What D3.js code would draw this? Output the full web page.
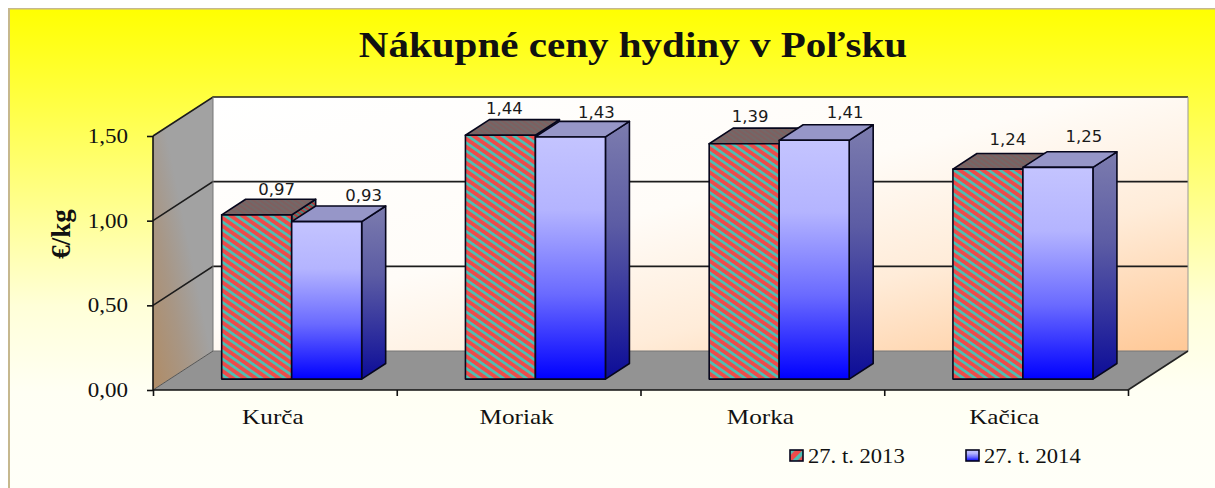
<!DOCTYPE html>
<html>
<head>
<meta charset="utf-8">
<script src="https://cdnjs.cloudflare.com/ajax/libs/d3/7.8.5/d3.min.js"></script>
<style>
html, body { margin: 0; padding: 0; background: #fff; overflow: hidden; }
text { fill: #111; font-family: "Liberation Serif", serif; }
.axis path, .axis line { stroke: #111; stroke-width: 1.6; }
.axis text { font-size: 20px; fill: #111; font-family: "Liberation Serif", serif; }
</style>
</head>
<body>
<svg id="chart" width="1215" height="488"></svg>
<script>
const categories = ['Kurča', 'Moriak', 'Morka', 'Kačica']
const series = ['27. t. 2013', '27. t. 2014']
const values2013 = [0.97, 1.44, 1.39, 1.24]
const values2014 = [0.93, 1.43, 1.41, 1.25]
const yTicks = [0, 0.5, 1, 1.5]

const width = 1215
const height = 488

const x0 = 153, x1 = 1128
const y0 = 390, y1 = 136
const depthX = 60, depthY = -39
const barStart = 0.28, barEnd = 0.68
const barW = 70

// hand placed, the labels in the picture sit off their bars
const labelOffsets2013 = [[20, -20], [4, -21], [6, -22], [20, -24]]
const labelOffsets2014 = [[37, -21], [26, -19], [31, -22], [26, -25]]

const svg = d3.select('#chart')
const defs = svg.append('defs')

function linear(id, coords, stops) {
    const g = defs.append('linearGradient').attr('id', id)
    .attr('x1', coords[0]).attr('y1', coords[1]).attr('x2', coords[2]).attr('y2', coords[3])
    stops.forEach(s => g.append('stop').attr('offset', s[0]).attr('stop-color', s[1]))
}

linear('bg', [0, 0, 0, 1], [[0, '#ffff00'], [0.3, '#ffff66'], [0.62, '#ffffd8'], [0.8, '#fffff4'], [1, '#fffff8']])
linear('wall', [0, 0, 1, 1], [[0, '#ffffff'], [0.45, '#fffcf8'], [0.7, '#ffecd9'], [1, '#ffc896']])
linear('side', [0, 1, 0.55, 0.45], [[0, '#b08c66'], [0.55, '#a89684'], [1, '#a2a2a2']])
linear('blueFront', [0, 0, 0, 1], [[0, '#c4c4ff'], [0.3, '#b4b4ff'], [0.65, '#6a6aff'], [1, '#0000ff']])
linear('blueSide', [0, 0, 0, 1], [[0, '#7c7cae'], [0.4, '#5c5ca4'], [1, '#0c0c98']])

function stripes(id, bg, fg, size, angle) {
    const p = defs.append('pattern').attr('id', id)
    .attr('patternUnits', 'userSpaceOnUse')
    .attr('width', size).attr('height', size)
    .attr('patternTransform', `rotate(${angle})`)
    p.append('rect').attr('width', size).attr('height', size).attr('fill', bg)
    p.append('rect').attr('width', size).attr('height', size * 0.42).attr('fill', fg)
}

stripes('hatch', '#ee4a4a', '#4cc0b4', 6.6, 35)
stripes('hatchTop', '#7f5f5f', '#6f6a6a', 4, 35)
stripes('hatchSide', '#b23c3c', '#389088', 4, 35)
stripes('hatchKey', '#ee4a4a', '#4cc0b4', 9, -45)

const y = d3.scaleLinear().domain([0, 1.5]).range([y0, y1])
const xBand = d3.scaleBand().domain(categories).range([x0, x1])
const xEdge = d3.scaleLinear().domain([0, categories.length]).range([x0, x1])

// depth: 0 is the front of the floor, 1 the back wall
const px = (x, t) => x + depthX * t
const py = (v, t) => y(v) + depthY * t
const poly = pts => pts.map(p => p.join(',')).join(' ')

// stretches text sideways, the reference is a widened bitmap
function widen(sel, k) {
    sel.each(function () {
        const len = this.getComputedTextLength()
        d3.select(this).attr('textLength', len * k).attr('lengthAdjust', 'spacingAndGlyphs')
    })
    return sel
}

svg.append('rect').attr('x', 8).attr('y', 8).attr('width', width - 8).attr('height', height - 8)
.attr('fill', 'url(#bg)')
svg.append('rect').attr('x', 8).attr('y', 8).attr('width', 2).attr('height', height - 8).attr('fill', '#c6b88e')
svg.append('rect').attr('x', 8).attr('y', 8).attr('width', width - 8).attr('height', 1.5).attr('fill', '#c6b88e')

// walls and floor
svg.append('polygon')
.attr('points', poly([[px(x0, 1), py(0, 1)], [px(x1, 1), py(0, 1)], [px(x1, 1), py(1.5, 1)], [px(x0, 1), py(1.5, 1)]]))
.attr('fill', 'url(#wall)')

svg.append('polygon')
.attr('points', poly([[px(x0, 0), py(0, 0)], [px(x0, 1), py(0, 1)], [px(x0, 1), py(1.5, 1)], [px(x0, 0), py(1.5, 0)]]))
.attr('fill', 'url(#side)')

svg.append('polygon')
.attr('points', poly([[px(x0, 0), py(0, 0)], [px(x1, 0), py(0, 0)], [px(x1, 1), py(0, 1)], [px(x0, 1), py(0, 1)]]))
.attr('fill', '#939393')

// gridlines run up the side wall and along the back
svg.append('g').selectAll('polyline')
.data(yTicks.slice(1))
.enter()
.append('polyline')
.attr('points', d => poly([[px(x0, 0), py(d, 0)], [px(x0, 1), py(d, 1)], [px(x1, 1), py(d, 1)]]))
.attr('fill', 'none')
.attr('stroke', '#1c1c1c')
.attr('stroke-width', 1.6)

svg.append('line')
.attr('x1', px(x0, 1)).attr('y1', py(0, 1)).attr('x2', px(x1, 1)).attr('y2', py(0, 1))
.attr('stroke', '#777').attr('stroke-width', 1)
svg.append('line')
.attr('x1', px(x0, 1)).attr('y1', py(1.5, 1)).attr('x2', px(x0, 1)).attr('y2', py(0, 1))
.attr('stroke', '#777').attr('stroke-width', 1)
svg.append('line')
.attr('x1', px(x1, 1)).attr('y1', py(1.5, 1)).attr('x2', px(x1, 1)).attr('y2', py(0, 1))
.attr('stroke', '#999').attr('stroke-width', 1)
svg.append('line')
.attr('x1', px(x0, 0)).attr('y1', py(0, 0)).attr('x2', px(x0, 1)).attr('y2', py(0, 1))
.attr('stroke', '#555').attr('stroke-width', 1)
svg.append('line')
.attr('x1', px(x1, 0)).attr('y1', py(0, 0)).attr('x2', px(x1, 1)).attr('y2', py(0, 1))
.attr('stroke', '#222').attr('stroke-width', 1.6)

// bars
function drawBar(g, left, v, front, side, top) {
    const right = left + barW
    const shift = (depthX * (barEnd - barStart))
    const rise = (depthY * (barEnd - barStart))
    const base = py(0, barStart)
    const head = py(v, barStart)

    g.append('polygon')
    .attr('points', poly([[right, base], [right + shift, base + rise], [right + shift, head + rise], [right, head]]))
    .attr('fill', side)
    g.append('polygon')
    .attr('points', poly([[left, head], [right, head], [right + shift, head + rise], [left + shift, head + rise]]))
    .attr('fill', top)
    g.append('polygon')
    .attr('points', poly([[left, base], [right, base], [right, head], [left, head]]))
    .attr('fill', front)
}

const bars = svg.append('g')
.attr('stroke', '#06061c')
.attr('stroke-width', 1.6)
.attr('stroke-linejoin', 'round')

categories.map((c, i) => {
    const left = px(xBand(c) + (xBand.bandwidth() - barW * 2) / 2, barStart)
    drawBar(bars, left, values2013[i], 'url(#hatch)', 'url(#hatchSide)', 'url(#hatchTop)')
    drawBar(bars, left + barW, values2014[i], 'url(#blueFront)', 'url(#blueSide)', '#9696c8')
})

// data labels
function drawLabels(values, offsets, step) {
    svg.append('g').selectAll('text')
    .data(categories)
    .enter()
    .append('text')
    .attr('x', (c, i) => px(xBand(c) + (xBand.bandwidth() - barW * 2) / 2, barStart) + barW * step + barW / 2 + offsets[i][0])
    .attr('y', (c, i) => py(values[i], barStart) + offsets[i][1])
    .attr('text-anchor', 'middle')
    .style('font-family', '"DejaVu Sans", sans-serif')
    .style('font-size', '16.5px')
    .style('fill', '#1a1a1a')
    .text((c, i) => d3.format('.2f')(values[i]).replace('.', ','))
}

drawLabels(values2013, labelOffsets2013, 0)
drawLabels(values2014, labelOffsets2014, 1)

// axes
const axisY = svg.append('g')
.attr('class', 'axis')
.attr('transform', `translate(${x0},0)`)
.call(d3.axisLeft(y).tickValues(yTicks).tickSize(6).tickPadding(19)
    .tickFormat(d => d3.format('.2f')(d).replace('.', ',')))
axisY.select('.domain').attr('d', `M0,${y1}V${y0}`)
widen(axisY.selectAll('text'), 1.15)

const axisEdges = svg.append('g')
.attr('class', 'axis')
.attr('transform', `translate(0,${y0})`)
.call(d3.axisBottom(xEdge).tickValues(d3.range(categories.length + 1)).tickSize(6).tickFormat(''))
axisEdges.select('.domain').attr('d', `M${x0},0H${x1}`)

const axisX = svg.append('g')
.attr('class', 'axis')
.attr('transform', `translate(-2,${y0})`)
.call(d3.axisBottom(xBand).tickSize(0).tickPadding(19))
axisX.select('.domain').remove()
axisX.selectAll('text').style('font-size', '21px')
widen(axisX.selectAll('text'), 1.2)

// titles
widen(svg.append('text')
.attr('x', 633)
.attr('y', 57)
.attr('text-anchor', 'middle')
.style('font-size', '36px')
.style('font-weight', 'bold')
.text('Nákupné ceny hydiny v Poľsku'), 1.14)

svg.append('text')
.attr('transform', 'translate(70,234) rotate(-90)')
.attr('text-anchor', 'middle')
.style('font-size', '27px')
.style('font-weight', 'bold')
.text('€/kg')

// legend
const legendX = [790, 966]
const legend = svg.append('g').selectAll('g')
.data(series)
.enter()
.append('g')
.attr('transform', (d, i) => `translate(${legendX[i]},450)`)

legend.append('rect')
.attr('width', 13)
.attr('height', 11)
.attr('fill', (d, i) => i === 0 ? 'url(#hatchKey)' : 'url(#blueFront)')
.attr('stroke', '#06061c')
.attr('stroke-width', 1.6)

widen(legend.append('text')
.attr('x', 18)
.attr('y', 13)
.style('font-size', '20px')
.text(d => d), 1.13)
</script>
</body>
</html>
